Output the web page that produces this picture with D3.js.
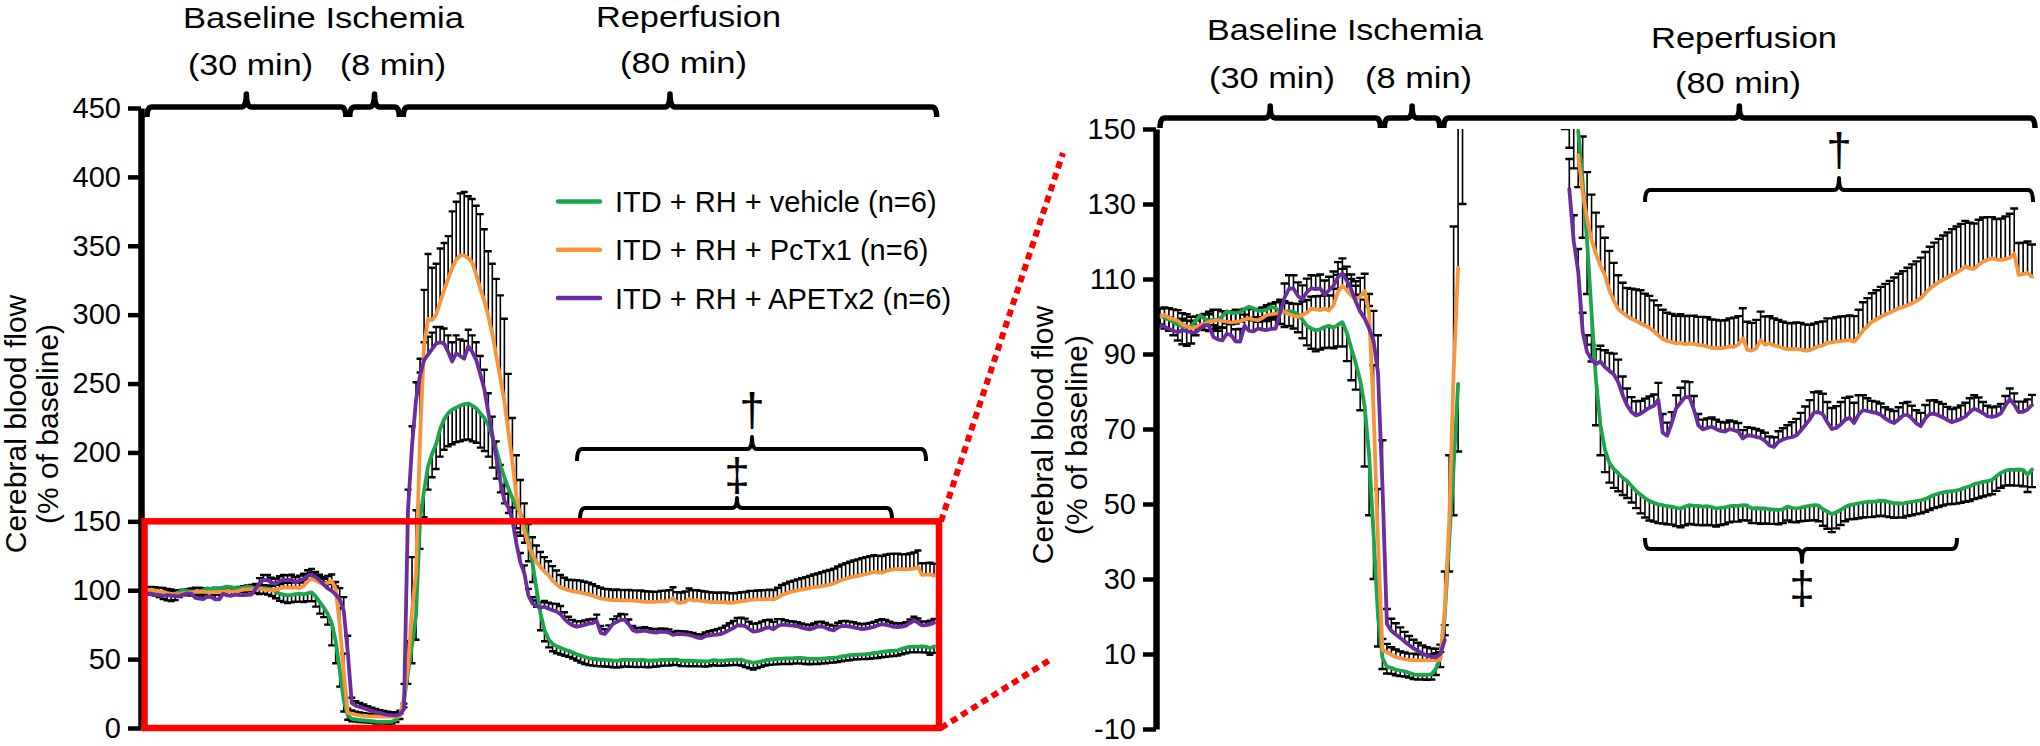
<!DOCTYPE html>
<html><head><meta charset="utf-8">
<script src="https://cdn.jsdelivr.net/npm/d3@7"></script>
<style>
body{margin:0;background:#fff}
text{font-family:"Liberation Sans",Arial,sans-serif;fill:#000}
</style></head>
<body><svg id="c" width="2040" height="746"></svg>
<script>
// ---- data (sampled every 0.6 min, 0 .. 117.6 min) ----
const sampleIntervalMin = 0.6;
const seriesNames = ["ITD + RH + vehicle (n=6)", "ITD + RH + PcTx1 (n=6)", "ITD + RH + APETx2 (n=6)"];
const phaseLabels = ["Baseline", "Ischemia", "Reperfusion"];
const phaseDurations = ["(30 min)", "(8 min)", "(80 min)"];
const phaseBounds = [0, 30, 38, 118];
const leftTicks = [0, 50, 100, 150, 200, 250, 300, 350, 400, 450];
const rightTicks = [-10, 10, 30, 50, 70, 90, 110, 130, 150];

const vehicleMean = [100.4,99.6,99.2,98.5,97.8,97.4,97.2,97.4,98.8,100.3,
99.4,98.9,99.2,99.0,100.0,101.4,101.0,100.9,101.2,102.0,
102.6,102.2,101.5,101.6,101.8,102.6,102.2,101.4,101.0,101.5,
101.2,100.6,99.2,97.5,96.8,96.3,96.6,97.2,97.5,97.0,
97.8,98.5,95.6,91.5,87.5,83.0,76.0,63.0,42.0,20.0,
9.0,6.6,6.3,5.8,5.6,5.4,5.0,4.6,4.4,4.5,
4.4,4.6,6.0,9.0,20,40,60,82,152,172,
190,199,206,217,224,228.5,231,232.5,234,235,
235.5,234,232,228.5,225,220,211,202,191,182,
174,167,161,155.5,149.5,136,120,101,83,71,
64.5,61,59.3,58.2,57,56.1,54.8,53.5,52.5,51.6,
50.8,50.3,49.9,49.7,49.4,49.3,49.0,48.8,49.3,49.7,
49.5,49.5,49.3,49.4,49.2,48.8,49.0,49.1,49.4,49.5,
49.5,49.7,49.6,48.8,48.9,48.8,48.8,48.6,48.5,48.4,
48.6,49.3,49.0,48.8,49.0,49.3,49.5,49.7,49.6,48.6,
48.0,47.3,47.8,48.4,49.2,49.7,49.9,50.2,50.4,50.6,
50.6,50.7,50.9,50.8,50.5,50.2,50.2,50.1,50.4,50.6,
50.8,51.0,51.3,51.9,52.4,52.8,53.1,53.3,53.4,53.6,
53.9,54.4,54.7,55.3,55.6,55.9,56.1,56.4,57.4,58.3,
58.9,59.1,59.1,59.2,59.1,57.8,59.2];
const vehicleSem = [2.5,2.8,3.0,3.5,4.2,4.8,5.0,4.6,3.8,3.2,
3.0,2.8,2.6,2.8,3.0,3.2,3.0,2.8,2.6,2.8,
3.0,3.2,2.9,2.8,3.0,3.2,3.0,3.4,3.8,4.0,
4.4,4.8,5.0,5.2,5.4,5.6,5.4,5.6,5.8,5.5,
5.8,6.5,7.5,8.5,7.0,8.0,16.0,16.0,12.0,8.0,
3.0,1.8,1.6,1.5,1.5,1.4,1.3,1.3,1.2,1.3,
1.3,1.4,1.6,2.5,5.0,8.0,13.0,18.0,22.0,19.0,
17.0,17.0,18.0,20.0,22.0,24.0,25.0,25.0,26.0,26.0,
26.0,26.0,25.0,25.0,24.0,23.0,22.0,21.0,20.0,19.0,
18.0,17.0,16.0,16.0,15.0,15.0,14.0,13.0,12.0,8.0,
6.0,5.3,5.0,4.8,4.6,4.5,4.4,4.6,5.0,5.2,
5.2,5.0,5.0,4.9,4.8,4.8,4.9,5.0,5.0,5.0,
5.0,5.1,5.0,5.0,4.9,4.8,4.6,4.5,4.3,4.2,
4.2,4.0,4.0,3.9,4.0,4.1,4.0,3.9,3.8,3.8,
3.7,3.7,3.8,3.7,3.6,3.8,3.9,4.0,4.2,4.4,
4.6,4.8,4.3,4.0,3.8,3.8,3.9,4.0,4.0,4.1,
4.1,4.0,4.0,4.1,4.0,3.9,3.8,3.7,3.6,3.6,
3.5,3.5,3.4,3.5,3.5,3.6,3.5,3.4,3.4,3.5,
3.6,3.8,3.9,4.0,4.0,3.9,3.8,3.8,3.9,4.0,
4.0,4.1,4.2,4.3,4.4,4.6,4.7];

const pctx1Mean = [99.9,100.4,99.7,99.3,98.9,97.9,97.4,96.9,97.2,97.7,
98.1,98.5,98.8,99.0,98.8,98.6,98.4,98.6,98.7,99.2,
99.5,99.2,99.0,99.6,100.4,100.6,100.8,101.0,101.3,100.6,
100.2,99.9,100.4,101.0,102.1,101.9,101.7,102.1,101.6,103.0,
106.5,108.2,107.0,105.6,104.6,105.3,106.8,101.0,75.0,40.0,
11.0,10.5,9.8,9.2,8.9,8.6,8.4,8.4,8.3,8.3,
8.3,8.3,8.4,8.5,22.0,45.0,85.0,113.0,210.0,278.0,
297,296,300,309,318,326,334,340,343,343,
341,338,329,319,310,299,286,270,254,237,
215,193,168,154,143,133,126,120.5,116.7,113.5,
111,107,104.3,102,101,100.1,99.4,98.8,98.2,97.6,
97.0,96.1,95.0,94.0,93.5,93.2,92.8,93.0,92.6,92.8,
92.7,92.4,92.3,92.0,91.6,91.6,91.5,91.7,92.0,91.9,
92.5,94.2,91.1,90.9,91.5,93.7,92.5,92.8,92.3,92.0,
91.6,91.3,91.3,91.4,91.2,90.9,91.0,91.5,92.0,92.3,
93.0,93.1,93.3,93.4,93.6,93.7,93.3,94.6,96.3,97.4,
98.6,99.2,99.9,100.5,101.0,101.6,102.2,102.5,103.0,103.5,
104.1,104.9,106.2,107.4,108.3,109.1,109.8,110.4,111.1,111.7,
112.4,113.3,112.8,112.7,113.8,114.6,115.1,115.5,115.2,115.1,
115.3,115.6,116.8,111.1,111.3,111.6,110.6];
const pctx1Sem = [2.2,2.0,2.5,2.6,2.8,3.0,3.2,3.0,2.8,2.6,
2.6,2.8,3.0,2.8,2.6,2.8,3.0,3.2,3.0,2.8,
2.6,2.8,3.0,2.8,2.6,2.8,3.0,3.0,2.8,3.0,
3.2,3.4,3.6,3.4,3.2,3.5,3.8,3.6,4.0,4.4,
4.6,4.5,4.2,4.4,4.8,5.0,4.6,5.0,12.0,14.0,
3.0,2.2,2.0,2.0,1.8,1.8,1.7,1.7,1.6,1.6,
1.6,1.6,1.8,2.0,10.0,18.0,39.0,45.0,48.0,40.0,
47.0,38.0,37.0,39.0,34.0,31.0,41.0,42.0,45.0,46.0,
45.0,46.0,50.0,54.0,52.0,47.0,51.0,56.0,60.0,60.0,
42.0,32.0,30.0,26.0,20.0,15.0,12.5,12.0,11.0,10.5,
10.0,10.5,10.0,9.0,8.0,7.5,8.0,8.4,8.8,8.5,
8.5,8.2,8.0,7.8,7.5,7.5,7.4,7.6,7.5,7.4,
7.5,7.5,7.6,7.8,7.6,7.5,7.4,7.3,7.5,7.8,
7.6,8.0,7.5,7.4,7.6,7.6,7.5,7.3,7.2,7.1,
7.0,7.0,6.9,7.0,7.1,7.0,6.8,6.6,6.5,6.4,
6.5,6.4,6.5,6.6,6.5,6.6,6.8,7.2,7.5,7.5,
7.6,7.8,8.0,8.2,8.5,8.8,9.2,9.6,10.0,10.4,
10.6,10.8,11.0,11.2,11.4,11.6,11.8,12.0,12.2,12.3,
12.3,12.2,12.2,12.1,12.0,11.8,11.4,11.0,10.8,11.0,
11.4,11.8,12.0,8.5,8.4,8.4,8.6];

const apetx2Mean = [97.7,97.3,96.7,96.2,95.8,96.4,96.1,95.8,95.7,96.8,
97.7,97.6,94.5,93.9,93.6,95.4,95.0,93.4,93.3,97.5,
96.2,96.0,96.8,96.5,96.4,96.7,96.8,101.0,105.0,107.4,
107.5,105.5,104.5,106.5,107.5,107.3,107.5,105.8,107.0,108.2,
110.5,111.5,109.5,107.2,104.0,101.3,99.5,96.8,93.5,85.0,
55.0,18.0,16.2,15.2,14.3,13.3,12.4,11.5,10.8,10.1,
9.6,9.3,9.1,10.0,13.7,158,205,238,256,267,
271,275,279,280,279,273,266,272,270,268,
277,273,267,257,246,229,213,196,179,165,
160,151,134,120,112,96,90.5,88.5,87.3,88.0,
86.5,85.5,84.6,82.5,79.0,76.3,74.5,73.6,74.1,74.9,
75.7,76.2,77.8,69.0,68.2,71.5,75.5,77.0,78.5,78.5,
75.2,71.0,69.9,70.3,70.6,70.0,69.5,69.3,70.0,69.7,
69.3,67.5,68.3,68.2,67.9,67.6,66.8,65.6,65.2,66.6,
67.2,67.6,67.8,68.3,69.5,71.0,72.5,74.4,74.5,73.9,
71.8,70.0,70.3,71.2,72.5,73.0,71.6,73.8,75.0,74.8,
74.5,74.3,73.8,72.8,72.1,71.6,72.5,73.6,73.8,72.8,
71.5,70.8,72.8,74.0,74.1,73.6,73.1,72.4,71.8,72.2,
72.7,73.3,74.5,75.4,74.9,74.2,73.4,73.2,73.5,74.2,
76.2,78.0,76.5,74.5,74.6,75.2,76.4];
const apetx2Sem = [2.5,2.8,3.0,3.0,3.2,3.0,2.8,3.0,3.2,3.0,
2.8,3.0,3.2,3.3,3.4,3.2,3.0,3.2,3.4,3.0,
3.0,3.1,3.0,3.2,3.0,3.1,3.2,3.5,3.8,3.6,
3.5,3.6,3.8,3.6,3.5,3.6,3.7,3.8,3.6,3.8,
4.0,4.0,3.8,4.0,4.2,4.5,5.0,6.0,8.0,10.0,
12.0,4.0,3.2,3.0,2.8,2.6,2.4,2.3,2.2,2.2,
2.2,2.2,2.3,2.5,4.0,15.0,14.0,13.0,12.0,13.0,
13.0,12.0,12.0,11.0,11.0,12.0,14.0,13.0,12.0,13.0,
12.0,12.0,13.0,13.0,14.0,14.0,13.0,12.0,12.0,11.0,
10.0,9.0,8.0,7.0,6.0,5.0,4.5,4.0,4.0,4.2,
4.5,4.8,5.5,6.0,5.0,4.5,4.0,3.8,3.4,3.2,
3.0,3.0,4.5,5.0,3.5,3.0,3.5,4.0,4.2,4.0,
3.6,3.0,2.6,2.5,2.5,2.5,2.4,2.4,2.3,2.3,
2.3,2.2,2.2,2.1,2.1,2.0,2.2,2.4,2.6,2.8,
3.0,3.4,4.0,4.4,4.8,5.0,5.2,5.4,5.5,5.5,
5.4,5.6,5.8,6.0,5.8,5.6,5.4,5.2,4.0,3.4,
3.0,3.0,3.0,3.0,3.1,3.2,3.3,3.3,3.4,3.4,
3.5,3.5,3.6,3.6,3.6,3.6,3.6,3.5,3.5,3.5,
3.6,3.7,3.7,3.6,3.5,3.0,2.8,2.6,2.5,2.5,
2.6,2.8,3.0,2.8,2.7,2.7,2.7];

// ---- styling ----
const FONT = '"Liberation Sans", Arial, sans-serif';
const series = [
  {name: seriesNames[0], mean: vehicleMean, sem: vehicleSem, color: "#1ca64c", dir: -1},
  {name: seriesNames[1], mean: pctx1Mean,  sem: pctx1Sem,  color: "#f7943c", dir: 1},
  {name: seriesNames[2], mean: apetx2Mean, sem: apetx2Sem, color: "#6b2c9f", dir: 1}
];
const tAt = i => i * sampleIntervalMin;
const svg = d3.select("#c");
svg.append("rect").attr("width", 2040).attr("height", 746).attr("fill", "#fff");
const defs = svg.append("defs");

function drawPanel(cfg) {
  const xs = d3.scaleLinear().domain([0, 117.6]).range(cfg.xRange);
  const ys = d3.scaleLinear().domain(cfg.yDomain).range(cfg.yRange);
  let barG = svg.append("g");
  if (cfg.clipId) {
    defs.append("clipPath").attr("id", cfg.clipId).append("rect")
      .attr("x", cfg.axisX).attr("y", cfg.yRange[1]).attr("width", 2040 - cfg.axisX)
      .attr("height", cfg.yRange[0] - cfg.yRange[1] + 4);
    barG.attr("clip-path", `url(#${cfg.clipId})`);
  }
  const capW = cfg.capW;
  series.forEach(s => {
    let stems = "", caps = "";
    s.mean.forEach((m, i) => {
      const x = xs(tAt(i)), y0 = ys(m), y1 = ys(m + s.dir * s.sem[i]);
      stems += `M${x},${y0}V${y1}`;
      caps += `M${x - capW / 2},${y1}H${x + capW / 2}`;
    });
    barG.append("path").attr("d", stems).attr("fill", "none").attr("stroke", "#000").attr("stroke-width", 1.6);
    barG.append("path").attr("d", caps).attr("fill", "none").attr("stroke", "#000").attr("stroke-width", 2.4);
  });
  const lo = cfg.yDomain[0], hi = cfg.yDomain[1];
  series.forEach(s => {
    const line = d3.line()
      .defined(d => d >= lo && d <= hi)
      .x((d, i) => xs(tAt(i))).y(d => ys(d));
    svg.append("path").attr("d", line(s.mean)).attr("fill", "none")
      .attr("stroke", s.color).attr("stroke-width", 3.8)
      .attr("stroke-linejoin", "round").attr("stroke-linecap", "round");
  });
  const axis = d3.axisLeft(ys).tickValues(cfg.ticks).tickFormat(d => String(d))
    .tickSize(13).tickSizeOuter(0).tickPadding(7);
  const ag = svg.append("g").attr("transform", `translate(${cfg.axisX},0)`).call(axis);
  ag.attr("font-family", FONT).attr("font-size", 29);
  ag.select(".domain").attr("stroke", "#000").attr("stroke-width", 6.5);
  ag.selectAll(".tick line").attr("stroke", "#000").attr("stroke-width", 4.5);
  ag.selectAll(".tick text").attr("fill", "#000");
  return {xs, ys};
}

const L = drawPanel({xRange: [147, 934], yDomain: [0, 450], yRange: [728, 108], axisX: 141,
  ticks: leftTicks, capW: 7});
const R = drawPanel({xRange: [1160, 2032], yDomain: [-10, 150], yRange: [729, 129], axisX: 1156,
  ticks: rightTicks, capW: 8, clipId: "clipR"});

// ---- brackets ----
function brace(x0, x1, xm, y, endDy, peakDy, sw) {
  const r = 5;
  const p = `M${x0},${y + endDy} Q${x0},${y} ${x0 + r},${y} L${xm - r},${y} Q${xm},${y} ${xm},${y - peakDy} Q${xm},${y} ${xm + r},${y} L${x1 - r},${y} Q${x1},${y} ${x1},${y + endDy}`;
  svg.append("path").attr("d", p).attr("fill", "none").attr("stroke", "#000")
    .attr("stroke-width", sw).attr("stroke-linejoin", "round");
}
function phaseBraces(xs, y, endDy, peakDy, pad) {
  for (let k = 0; k < 3; k++) {
    const x0 = xs(phaseBounds[k]) + (k ? pad : 0);
    const x1 = xs(phaseBounds[k + 1]) - (k < 2 ? pad : 0);
    brace(x0, x1, (x0 + x1) / 2, y, endDy, peakDy, 5.5);
  }
}
phaseBraces(L.xs, 107, 10, 13, 2);
phaseBraces(R.xs, 118, 10, 12, 2);

// significance brackets
brace(577, 926, 752, 449, 12, 12, 4);
brace(580, 892, 737, 508, 12, 10, 4);
brace(1645, 2033, 1839, 190, 12, 12, 4);
brace(1645, 1957, 1802, 549, -11, -13, 4);

function txt(s, x, y, size, opts = {}) {
  const t = svg.append("text").attr("x", x).attr("y", y).attr("font-size", size)
    .attr("font-family", FONT).text(s);
  if (opts.len) t.attr("textLength", opts.len).attr("lengthAdjust", "spacingAndGlyphs");
  if (opts.anchor) t.attr("text-anchor", opts.anchor);
  if (opts.rot) t.attr("transform", `rotate(-90,${x},${y})`);
  return t;
}
txt("†", 752, 426, 46, {anchor: "middle"});
txt("‡", 737, 491, 46, {anchor: "middle"});
txt("†", 1839, 166, 46, {anchor: "middle"});
txt("‡", 1802, 604, 46, {anchor: "middle"});

// phase headings
txt(phaseLabels[0] + " " + phaseLabels[1], 183, 28, 30, {len: 281});
txt(phaseDurations[0], 188, 75, 30, {len: 125});
txt(phaseDurations[1], 340, 75, 30, {len: 106});
txt(phaseLabels[2], 596, 27, 30, {len: 185});
txt(phaseDurations[2], 620, 73, 30, {len: 127});
txt(phaseLabels[0] + " " + phaseLabels[1], 1207, 40, 30, {len: 276});
txt(phaseDurations[0], 1209, 88, 30, {len: 126});
txt(phaseDurations[1], 1365, 88, 30, {len: 107});
txt(phaseLabels[2], 1651, 48, 30, {len: 186});
txt(phaseDurations[2], 1675, 93, 30, {len: 126});

// y labels
txt("Cerebral blood flow", 26, 424, 30, {anchor: "middle", rot: true});
txt("(% of baseline)", 58, 424, 30, {anchor: "middle", rot: true});
txt("Cerebral blood flow", 1053, 435, 30, {anchor: "middle", rot: true});
txt("(% of baseline)", 1087, 435, 30, {anchor: "middle", rot: true});

// legend
series.forEach((s, k) => {
  const y = 201.5 + k * 48.3;
  svg.append("line").attr("x1", 558).attr("x2", 600).attr("y1", y).attr("y2", y)
    .attr("stroke", s.color).attr("stroke-width", 4.5).attr("stroke-linecap", "round");
  txt(s.name, 615, y + 10.5, 29);
});

// zoom box and connectors
svg.append("rect").attr("x", 144.5).attr("y", L.ys(150)).attr("width", 939 - 144.5)
  .attr("height", L.ys(0) - L.ys(150)).attr("fill", "none").attr("stroke", "#ff0000").attr("stroke-width", 6.5);
svg.append("line").attr("x1", 941).attr("y1", L.ys(150)).attr("x2", 1063).attr("y2", 153)
  .attr("stroke", "#ff0000").attr("stroke-width", 6).attr("stroke-dasharray", "7,5");
svg.append("line").attr("x1", 941).attr("y1", L.ys(0)).attr("x2", 1053).attr("y2", 658)
  .attr("stroke", "#ff0000").attr("stroke-width", 6).attr("stroke-dasharray", "7,5");
</script></body></html>
